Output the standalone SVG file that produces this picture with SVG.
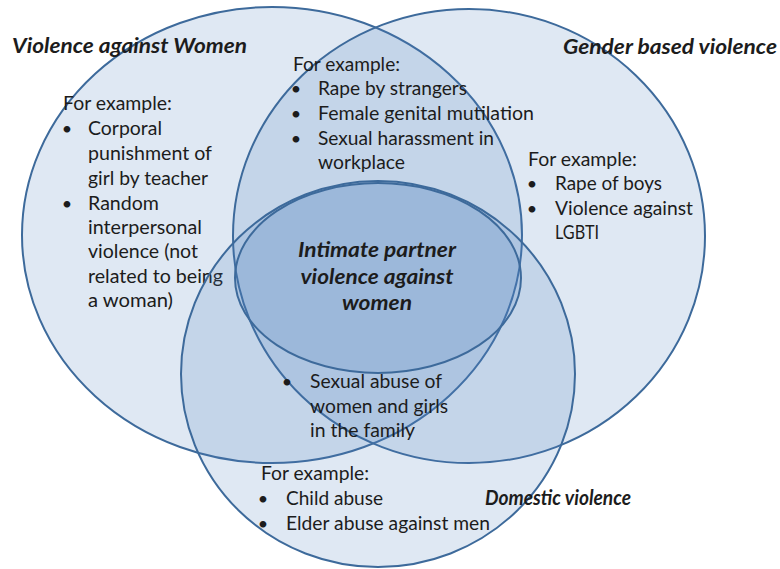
<svg xmlns="http://www.w3.org/2000/svg" width="780" height="569" viewBox="0 0 780 569">
<style>
.set{fill:#4f81bd;fill-opacity:0.18;stroke:#3d6a9b;stroke-width:2}
text{font-family:Lato,"Liberation Sans",sans-serif;fill:#1c1c1c}
.t{font-size:18.5px;lengthAdjust:spacingAndGlyphs}
.h{font-size:20px;font-weight:bold;font-style:italic}
.b{font-size:18px;text-anchor:middle}
.c{text-anchor:middle}
</style>
<rect width="780" height="569" fill="#ffffff"/>
<g id="violence-against-women">
<ellipse class="set" cx="272" cy="235" rx="250" ry="228"/>
<text class="h" x="12" y="53" textLength="235" lengthAdjust="spacingAndGlyphs">Violence against Women</text>
<text class="t" x="63" y="110" textLength="109" lengthAdjust="spacingAndGlyphs">For example:</text>
<text class="b" x="67" y="135">•</text>
<text class="b" x="67" y="210">•</text>
<text class="t" x="88" y="135" textLength="74" lengthAdjust="spacingAndGlyphs">Corporal</text>
<text class="t" x="88" y="160" textLength="124" lengthAdjust="spacingAndGlyphs">punishment of</text>
<text class="t" x="88" y="185" textLength="120" lengthAdjust="spacingAndGlyphs">girl by teacher</text>
<text class="t" x="88" y="210" textLength="71" lengthAdjust="spacingAndGlyphs">Random</text>
<text class="t" x="88" y="234" textLength="114" lengthAdjust="spacingAndGlyphs">interpersonal</text>
<text class="t" x="88" y="258" textLength="110" lengthAdjust="spacingAndGlyphs">violence (not</text>
<text class="t" x="88" y="283" textLength="135" lengthAdjust="spacingAndGlyphs">related to being</text>
<text class="t" x="88" y="307" textLength="85" lengthAdjust="spacingAndGlyphs">a woman)</text>
</g>
<g id="gender-based-violence">
<ellipse class="set" cx="469" cy="236" rx="236" ry="227"/>
<text class="h" x="563" y="54" textLength="214" lengthAdjust="spacingAndGlyphs">Gender based violence</text>
<text class="t" x="528" y="165.5" textLength="109" lengthAdjust="spacingAndGlyphs">For example:</text>
<text class="b" x="532" y="190">•</text>
<text class="b" x="532" y="214.5">•</text>
<text class="t" x="555" y="190" textLength="107" lengthAdjust="spacingAndGlyphs">Rape of boys</text>
<text class="t" x="555" y="214.5" textLength="138" lengthAdjust="spacingAndGlyphs">Violence against</text>
<text class="t" x="555" y="239" textLength="44" lengthAdjust="spacingAndGlyphs">LGBTI</text>
</g>
<g id="domestic-violence">
<ellipse class="set" cx="378" cy="374" rx="197" ry="193"/>
<text class="h" x="485" y="505" textLength="146" lengthAdjust="spacingAndGlyphs">Domestic violence</text>
<text class="t" x="261" y="480" textLength="108" lengthAdjust="spacingAndGlyphs">For example:</text>
<text class="b" x="263" y="505">•</text>
<text class="b" x="263" y="530">•</text>
<text class="t" x="286" y="505" textLength="97" lengthAdjust="spacingAndGlyphs">Child abuse</text>
<text class="t" x="286" y="530" textLength="204" lengthAdjust="spacingAndGlyphs">Elder abuse against men</text>
</g>
<g id="intimate-partner-violence">
<ellipse class="set" cx="378" cy="278" rx="143" ry="95"/>
<text class="h c" x="377" y="257" textLength="158" lengthAdjust="spacingAndGlyphs">Intimate partner</text>
<text class="h c" x="377" y="283.5" textLength="153" lengthAdjust="spacingAndGlyphs">violence against</text>
<text class="h c" x="377" y="310" textLength="70" lengthAdjust="spacingAndGlyphs">women</text>
</g>
<g id="women-gbv-examples">
<text class="t" x="293" y="70.5" textLength="107" lengthAdjust="spacingAndGlyphs">For example:</text>
<text class="b" x="296" y="95">•</text>
<text class="b" x="296" y="120">•</text>
<text class="b" x="296" y="145">•</text>
<text class="t" x="318" y="95" textLength="149" lengthAdjust="spacingAndGlyphs">Rape by strangers</text>
<text class="t" x="318" y="120" textLength="216" lengthAdjust="spacingAndGlyphs">Female genital mutilation</text>
<text class="t" x="318" y="145" textLength="176" lengthAdjust="spacingAndGlyphs">Sexual harassment in</text>
<text class="t" x="318" y="169" textLength="87" lengthAdjust="spacingAndGlyphs">workplace</text>
</g>
<g id="family-abuse-example">
<text class="b" x="287" y="388">•</text>
<text class="t" x="310" y="388" textLength="132" lengthAdjust="spacingAndGlyphs">Sexual abuse of</text>
<text class="t" x="310" y="413" textLength="138" lengthAdjust="spacingAndGlyphs">women and girls</text>
<text class="t" x="310" y="437" textLength="105" lengthAdjust="spacingAndGlyphs">in the family</text>
</g>
</svg>
